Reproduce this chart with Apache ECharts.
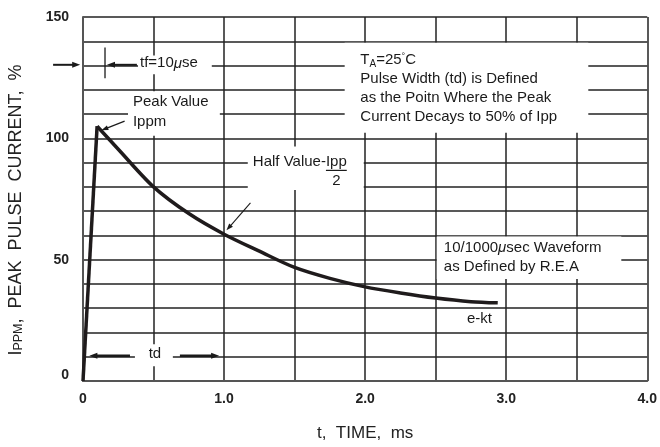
<!DOCTYPE html>
<html>
<head>
<meta charset="utf-8">
<script src="https://cdn.jsdelivr.net/npm/echarts@6/dist/echarts.min.js"></script>
<style>
  html, body { margin: 0; padding: 0; background: #fff; }
  #chart { width: 660px; height: 447px; }
</style>
</head>
<body>
<div id="chart"></div>
<script>
// pulse waveform
var timeMs = [0, 0.1, 0.25, 0.5, 0.75, 1.0, 1.25, 1.5, 1.75, 2.0, 2.25, 2.5, 2.75, 2.94];
var currentPct = [0, 105, 95.5, 80, 69, 60.5, 53.5, 46.8, 42.3, 38.8, 36.3, 34.2, 32.7, 32.2];
var peakIndex = 1; // rise is straight up to here, decay is smooth after

var xTickLabels = ["0", "1.0", "2.0", "3.0", "4.0"];
var yTickLabels = ["0", "50", "100", "150"];

var FONT = "'Liberation Sans', Arial, sans-serif";
var INK = "#1a1a1a";

var chart = echarts.init(document.getElementById("chart"), null, { renderer: "canvas" });

var points = timeMs.map(function (t, i) { return [t, currentPct[i]]; });
var curveStyle = { color: "#1f1b1c", width: 3.5, join: "miter" };

var option = {
  animation: false,
  backgroundColor: "#fff",
  grid: { left: 83, top: 17, right: 12, bottom: 62 },
  xAxis: {
    type: "value",
    min: 0,
    max: 4,
    interval: 0.5,
    axisLine: { show: true, onZero: false, lineStyle: { color: "#555", width: 2 } },
    axisTick: { show: false },
    splitLine: { show: true, lineStyle: { color: "#222", width: 1.5 } },
    axisLabel: {
      margin: 11,
      color: "#222",
      fontFamily: FONT,
      fontWeight: "bold",
      fontSize: 14,
      showMaxLabel: true,
      formatter: function (v) {
        var i = Math.round(v);
        return Math.abs(v - i) < 1e-6 ? xTickLabels[i] : "";
      }
    },
    name: "t,  TIME,  ms",
    nameLocation: "middle",
    nameGap: 44,
    nameTextStyle: { fontFamily: FONT, fontSize: 17, color: "#222" }
  },
  yAxis: {
    type: "value",
    min: 0,
    max: 150,
    interval: 10,
    axisLine: { show: true, lineStyle: { color: "#555", width: 2 } },
    axisTick: { show: false },
    splitLine: { show: true, lineStyle: { color: "#222", width: 1.5 } },
    axisLabel: {
      margin: 14,
      color: "#222",
      fontFamily: FONT,
      fontWeight: "bold",
      fontSize: 14,
      showMaxLabel: true,
      formatter: function (v) {
        if (v % 50 !== 0) return "";
        var s = yTickLabels[v / 50];
        return v === 0 ? "{z|" + s + "}" : s;
      },
      rich: {
        z: { fontFamily: FONT, fontWeight: "bold", fontSize: 14, color: "#222", padding: [0, 0, 12, 0] }
      }
    }
  },
  series: [
    {
      // rise
      type: "line",
      data: points.slice(0, peakIndex + 1),
      showSymbol: false,
      clip: false,
      lineStyle: curveStyle,
      z: 3
    },
    {
      // decay
      type: "line",
      data: points.slice(peakIndex),
      showSymbol: false,
      smooth: 0.3,
      clip: false,
      lineStyle: curveStyle,
      z: 3
    }
  ]
};
chart.setOption(option);

// ---- annotations, placed in data coordinates ----
function px(t, v) { return chart.convertToPixel({ gridIndex: 0 }, [t, v]); }

var measureCtx = document.createElement("canvas").getContext("2d");
function textWidth(s, size) {
  measureCtx.font = size + "px " + FONT;
  return measureCtx.measureText(s).width;
}

function box(t0, v0, t1, v1) {
  var a = px(t0, v0), b = px(t1, v1);
  return {
    type: "rect", z: 10, silent: true,
    shape: { x: a[0], y: a[1], width: b[0] - a[0], height: b[1] - a[1] },
    style: { fill: "#fff" }
  };
}

function label(t, v, text, align, extra) {
  var p = px(t, v);
  var st = {
    text: text, x: p[0], y: p[1], fill: INK, font: "15px " + FONT,
    align: align || "left", verticalAlign: "middle"
  };
  if (extra) for (var k in extra) st[k] = extra[k];
  return { type: "text", z: 20, silent: true, style: st };
}

function seg(a, b, w) {
  return {
    type: "line", z: 20, silent: true,
    shape: { x1: a[0], y1: a[1], x2: b[0], y2: b[1] },
    style: { stroke: INK, lineWidth: w }
  };
}

function arrow(tailT, tailV, tipT, tipV, w, hl, hw) {
  var a = px(tailT, tailV), b = px(tipT, tipV);
  var dx = b[0] - a[0], dy = b[1] - a[1];
  var len = Math.sqrt(dx * dx + dy * dy);
  var ux = dx / len, uy = dy / len;
  var bx = b[0] - ux * hl, by = b[1] - uy * hl;
  return [
    seg(a, [bx + ux, by + uy], w),
    {
      type: "polygon", z: 20, silent: true,
      shape: { points: [b, [bx - uy * hw / 2, by + ux * hw / 2], [bx + uy * hw / 2, by - ux * hw / 2]] },
      style: { fill: INK }
    }
  ];
}

var g = [];

// white boxes that break the grid behind the notes
g.push(box(0.39, 134.1, 0.913, 126.4));   // tf
g.push(box(0.319, 119.4, 0.97, 101.1));   // peak value
g.push(box(1.855, 139.4, 3.582, 102.3));  // TA block
g.push(box(1.168, 96.6, 1.99, 78.7));     // half value
g.push(box(2.508, 59.5, 3.816, 42));      // waveform
g.push(box(0.368, 15.1, 0.637, 6.1));     // td

// tf = 10 usec
g = g.concat(arrow(-0.212, 130.3, -0.02, 130.3, 2, 8, 6));
g.push(seg(px(0.156, 137.4), px(0.156, 124.8), 1.3));
g = g.concat(arrow(0.382, 130.3, 0.17, 130.3, 2, 8, 6));
g.push(label(0.404, 130.9, "tf=10{mu|\u03bc}se", "left", {
  rich: { mu: { font: "italic 15px " + FONT, fill: INK } }
}));

// peak value
g.push(label(0.354, 115, "Peak Value"));
g.push(label(0.354, 106.8, "Ippm"));
g = g.concat(arrow(0.295, 107.1, 0.13, 103.3, 1.2, 7, 5));

// TA block
var taLines = [
  "T{sub|A}=25{sup|\u00b0}C",
  "Pulse Width (td) is Defined",
  "as the Poitn Where the Peak",
  "Current Decays to 50% of Ipp"
];
var taVals = [132.2, 124.6, 116.6, 108.7];
taLines.forEach(function (s, i) {
  g.push(label(1.966, taVals[i], s, "left", {
    rich: {
      sub: { font: "10px " + FONT, fill: INK, padding: [8, 0, 0, 0] },
      sup: { font: "9px " + FONT, fill: INK, padding: [0, 0, 8, 0] }
    }
  }));
});

// half value
var hvLeft = px(1.204, 90.5);
var w1 = textWidth("Half Value-", 15), w2 = textWidth("Ipp", 15);
g.push(label(1.204, 90.5, "Half Value-Ipp"));
g.push(seg([hvLeft[0] + w1, hvLeft[1] + 9], [hvLeft[0] + w1 + w2, hvLeft[1] + 9], 1.2));
g.push({
  type: "text", z: 20, silent: true,
  style: { text: "2", x: hvLeft[0] + w1 + w2 / 2, y: hvLeft[1] + 19, fill: INK,
    font: "15px " + FONT, align: "center", verticalAlign: "middle" }
});
g = g.concat(arrow(1.187, 73.4, 1.017, 62.1, 1.1, 7, 5));

// waveform note
g.push(label(2.558, 54.7, "10/1000{mu|\u03bc}sec Waveform", "left", {
  rich: { mu: { font: "italic 15px " + FONT, fill: INK } }
}));
g.push(label(2.558, 46.9, "as Defined by R.E.A"));

// e-kt
g.push(label(2.81, 25.8, "e-kt", "center"));

// td
g.push(label(0.51, 11, "td", "center"));
g = g.concat(arrow(0.333, 10.4, 0.045, 10.4, 2.5, 8, 6));
g = g.concat(arrow(0.687, 10.4, 0.965, 10.4, 2.5, 8, 6));

// y axis title (rotated, with subscript)
g.push({
  type: "text", z: 20, silent: true,
  x: 16, y: 210, rotation: Math.PI / 2,
  style: {
    text: "{m|I}{s|PPM}{m|,  PEAK  PULSE  CURRENT,  %}",
    x: 0, y: 0, align: "center", verticalAlign: "middle",
    rich: {
      m: { font: "18px " + FONT, fill: "#222" },
      s: { font: "12.5px " + FONT, fill: "#222", padding: [5, 0, 0, 0] }
    }
  }
});

chart.setOption({ graphic: { elements: g } });
</script>
</body>
</html>
